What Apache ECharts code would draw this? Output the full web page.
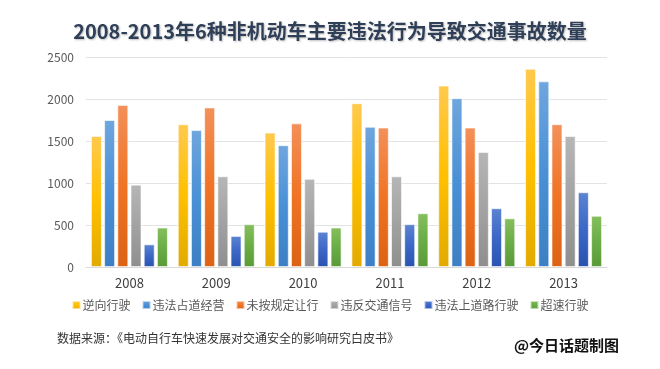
<!DOCTYPE html>
<html>
<head>
<meta charset="utf-8">
<script src="https://cdn.jsdelivr.net/npm/echarts@6/dist/echarts.min.js"></script>
<style>
html,body{margin:0;padding:0;background:#fff;}
#chart{width:660px;height:369px;}
</style>
</head>
<body>
<div id="chart"></div>
<script>
const years = ['2008','2009','2010','2011','2012','2013'];
const seriesNames = ['逆向行驶','违法占道经营','未按规定让行','违反交通信号','违法上道路行驶','超速行驶'];
const s1 = [1560,1700,1600,1950,2160,2360];
const s2 = [1750,1630,1450,1670,2010,2210];
const s3 = [1930,1900,1710,1660,1660,1700];
const s4 = [980,1080,1050,1080,1370,1560];
const s5 = [270,370,420,510,700,890];
const s6 = [470,510,470,640,580,610];
const allValues = [s1,s2,s3,s4,s5,s6];
const yTicks = [0,500,1000,1500,2000,2500];

const baseColors = ['#ffc000','#4a90d6','#f07424','#a3a3a3','#3b67c6','#6aad46'];
const gradients = [
  ['#ffc94d','#ffc000','#e2aa00'],
  ['#6fa6de','#4a90d6','#3d7fc4'],
  ['#f3905a','#f07424','#dc6214'],
  ['#b6b6b6','#a3a3a3','#8e8e8e'],
  ['#5c84d2','#3b67c6','#2a53b0'],
  ['#86bf5e','#6aad46','#5a9a38']
];

const chart = echarts.init(document.getElementById('chart'));
const series = seriesNames.map((n,i)=>({
  name:n,
  type:'bar',
  data:allValues[i],
  barWidth:11,
  barGap:'20%',
  itemStyle:{
    color:new echarts.graphic.LinearGradient(0,0,0,1,[
      {offset:0,color:gradients[i][0]},
      {offset:0.5,color:gradients[i][1]},
      {offset:1,color:gradients[i][2]}
    ]),
    borderColor:'rgba(255,255,255,0.6)',
    borderWidth:1
  }
}));

chart.setOption({
  animation:false,
  backgroundColor:'#ffffff',
  color:baseColors,
  title:{
    text:'2008-2013年6种非机动车主要违法行为导致交通事故数量',
    left:'center',
    top:16,
    textStyle:{
      fontFamily:'Noto Sans CJK SC',
      fontWeight:'bold',
      fontSize:20,
      color:'#2f3f58',
      textShadowColor:'rgba(0,0,0,0.25)',
      textShadowBlur:2,
      textShadowOffsetX:1,
      textShadowOffsetY:1
    }
  },
  legend:{
    data:seriesNames,
    bottom:53,
    left:'center',
    itemWidth:8,
    itemHeight:8,
    itemGap:11,
    icon:'rect',
    textStyle:{fontFamily:'Noto Sans CJK SC',fontSize:12,color:'#595959',padding:[0,0,0,-3]}
  },
  grid:{left:86,right:53,top:57,bottom:102},
  xAxis:{
    type:'category',
    data:years,
    axisLine:{lineStyle:{color:'#d9d9d9'}},
    axisTick:{show:false},
    axisLabel:{fontFamily:'Noto Sans CJK SC',fontSize:13,color:'#404040',margin:10}
  },
  yAxis:{
    type:'value',
    min:yTicks[0],
    max:yTicks[yTicks.length-1],
    interval:500,
    axisLine:{show:false},
    axisTick:{show:false},
    splitLine:{lineStyle:{color:'#e3e3e3',width:1}},
    axisLabel:{fontFamily:'Noto Sans CJK SC',fontSize:12,color:'#595959',margin:12,formatter:v=>String(v)}
  },
  graphic:[
    {type:'text',left:57,top:332,style:{text:'数据来源：《电动自行车快速发展对交通安全的影响研究白皮书》',font:'12px "Noto Sans CJK SC"',fill:'#333333'}},
    {type:'text',left:514,top:338,style:{text:'@今日话题制图',font:'bold 15px "Noto Sans CJK SC"',fill:'#111111'}}
  ],
  series:series
});
</script>
</body>
</html>
